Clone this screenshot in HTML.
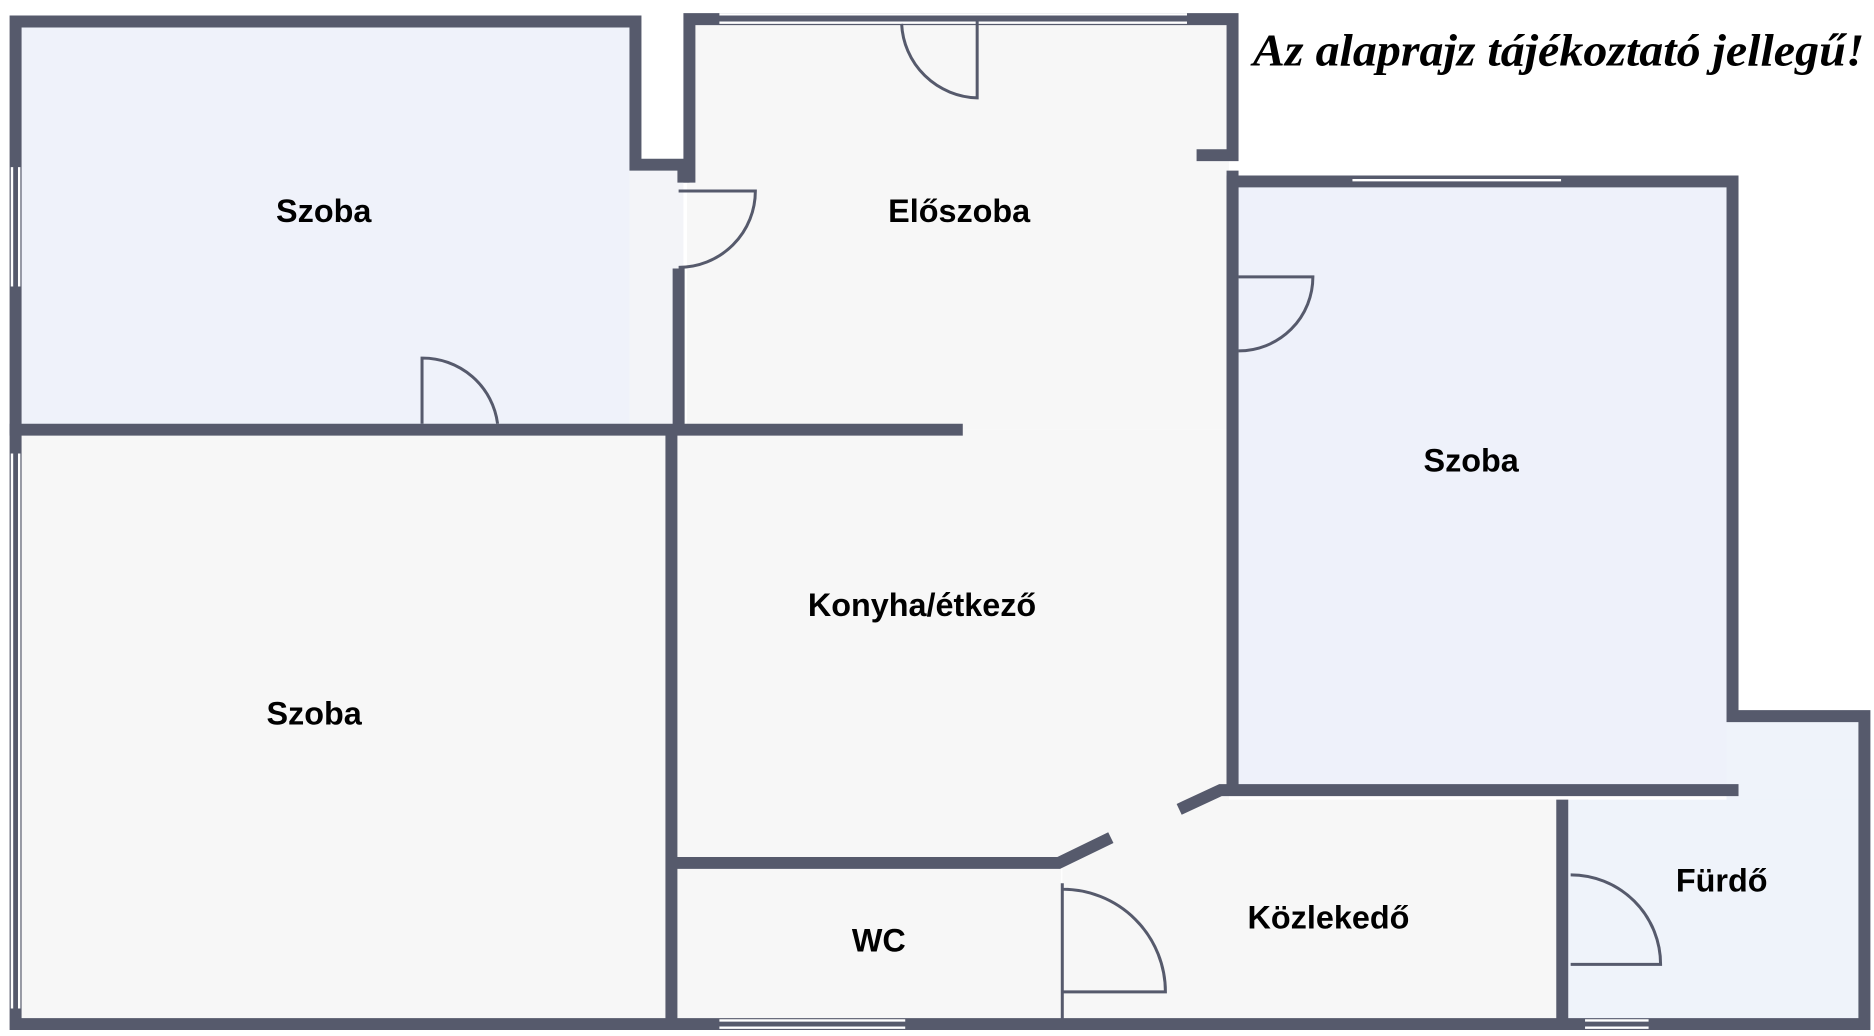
<!DOCTYPE html>
<html><head><meta charset="utf-8"><style>
html,body{margin:0;padding:0;background:#fff;width:1874px;height:1036px;overflow:hidden}
svg{display:block}
.w{stroke:#565a6c;stroke-width:10;fill:none;stroke-linecap:square}
.t{stroke:#565a6c;stroke-width:2.5;fill:none}
.win{stroke:#fff;stroke-width:2;fill:none}
.l{font-family:"Liberation Sans",sans-serif;font-weight:bold;font-size:27px;fill:#000;text-anchor:middle}
.ttl{font-family:"Liberation Serif",serif;font-style:italic;font-weight:bold;font-size:38px}
</style></head><body>
<svg width="1874" height="1036" viewBox="0 0 1563 868" preserveAspectRatio="none">
<rect x="18" y="22" width="512" height="336" fill="#eff2fa"/>
<rect x="525" y="140" width="45" height="220" fill="#f3f4f8"/>
<rect x="573" y="20" width="452" height="340" fill="#f7f7f7"/>
<rect x="565" y="360" width="460" height="360" fill="#f7f7f7"/>
<rect x="18" y="365" width="537" height="490" fill="#f7f7f7"/>
<rect x="1031" y="153" width="409" height="507" fill="#eef1fa"/>
<rect x="565" y="728" width="320" height="128" fill="#f7f7f7"/>
<rect x="886" y="670" width="412" height="186" fill="#f7f7f7"/>
<rect x="1440" y="603" width="110" height="253" fill="#eff3fa"/>
<rect x="1308" y="670" width="242" height="186" fill="#eff3fa"/>
<!-- walls -->
<path class="w" d="M13 358 V18 H530 V138 H570 V148"/>
<path class="w" d="M566 230 V358"/>
<path class="w" d="M13 360 H560 M560 360 H798"/>
<path class="w" d="M575 148 V16 H1028 V128 M1003 130 H1028"/>
<path class="w" d="M13 365 V858 H1555 V600 H1445 V152 H1028 V660"/>
<path class="w" d="M560 362 V855"/>
<path class="w" d="M562 723 H883 L922 704"/>
<path class="w" d="M988 676 L1018 662 H1445"/>
<path class="w" d="M1303 675 V855"/>
<path class="w" d="M1028 660 V148"/>
<!-- windows -->
<path class="win" d="M600 12 H990 M600 19 H990"/>
<path d="M1128 145 H1302 M1128 151 H1302" class="win"/>
<path d="M10 140 V240 M16 140 V240" class="win"/>
<path d="M10 380 V845 M16 380 V845" class="win"/>
<path d="M600 855 H755 M600 861 H755" class="win"/>
<path d="M1322 855 H1375 M1322 861 H1375" class="win"/>
<!-- doors -->
<path class="t" d="M815 16 V82 A65 65 0 0 1 752 20"/>
<path class="t" d="M566 160 H630 A64 64 0 0 1 566 224"/>
<path class="t" d="M352 355 V300 A63 63 0 0 1 415 355"/>
<path class="t" d="M1033 232 H1095 A62 62 0 0 1 1033 294"/>
<path class="t" d="M886 740 V855 M886 745 A86 86 0 0 1 972 831 H886"/>
<path class="t" d="M1310 733 A75 75 0 0 1 1385 808 H1310"/>
<!-- labels -->
<text class="l" x="270" y="186">Szoba</text>
<text class="l" x="800" y="186">Előszoba</text>
<text class="l" x="1227" y="395">Szoba</text>
<text class="l" x="769" y="516">Konyha/étkező</text>
<text class="l" x="262" y="607">Szoba</text>
<text class="l" x="733" y="797">WC</text>
<text class="l" x="1108" y="778">Közlekedő</text>
<text class="l" x="1436" y="747">Fürdő</text>
<text class="ttl" x="1300" y="55" text-anchor="middle" textLength="510" lengthAdjust="spacingAndGlyphs">Az alaprajz tájékoztató jellegű!</text>
</svg>
</body></html>
